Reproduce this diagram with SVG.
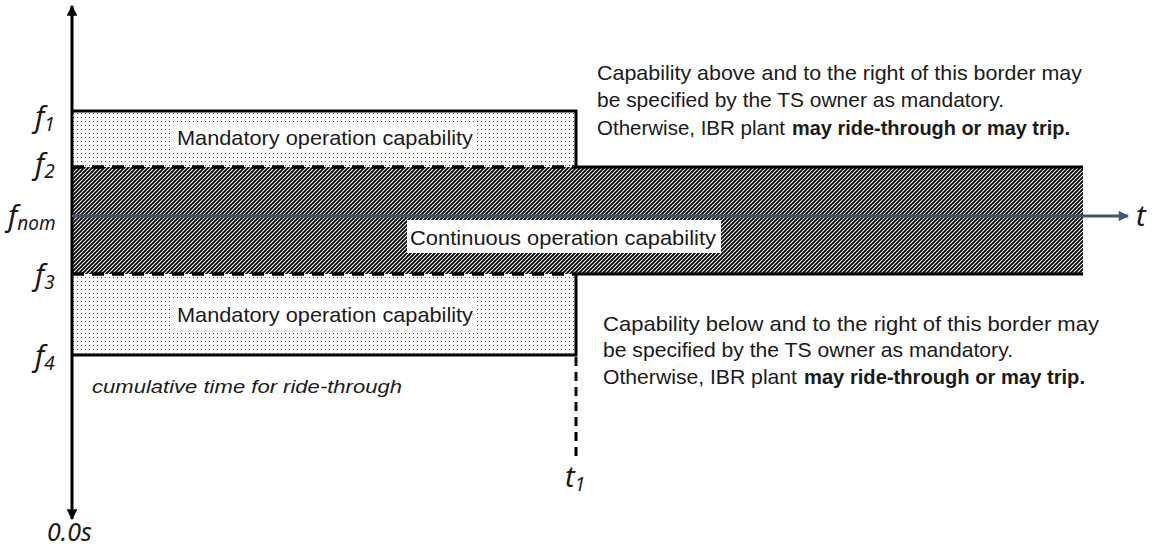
<svg xmlns="http://www.w3.org/2000/svg" width="1153" height="549" viewBox="0 0 1153 549">
<style>
.body{font-family:"Liberation Sans",Arial,sans-serif;font-size:21px;fill:#1a1a1a}
.lab{font-family:"Noto Sans","Open Sans",sans-serif;font-style:italic;font-size:29px;fill:#1a1a1a}
.sub{font-size:19px}
.solid{stroke:#000;stroke-width:3;fill:none}
.dash{stroke:#000;stroke-width:3.5;fill:none;stroke-dasharray:12 8}
.vdash{stroke:#000;stroke-width:3;fill:none;stroke-dasharray:9 6}
.b{font-weight:bold}
</style>
<defs>
<pattern id="dots" width="4" height="4" patternUnits="userSpaceOnUse">
<rect width="4" height="4" fill="#fff"/>
<rect x="1" y="1" width="1" height="1" fill="#555"/>
</pattern>
<pattern id="hatch" width="4" height="4" patternUnits="userSpaceOnUse">
<rect width="4" height="4" fill="#fff"/>
<path d="M-1,1 L1,-1 M0,4 L4,0 M3,5 L5,3" stroke="#000" stroke-width="1.9"/>
</pattern>
<marker id="ahK" viewBox="0 0 10 10" refX="9" refY="5" markerWidth="3.6" markerHeight="3.6" orient="auto" markerUnits="strokeWidth">
<path d="M0,0 L10,5 L0,10 z" fill="#000"/>
</marker>
<marker id="ahB" viewBox="0 0 10 10" refX="9" refY="5" markerWidth="3.8" markerHeight="3.2" orient="auto" markerUnits="strokeWidth">
<path d="M0,0 L10,5 L0,10 z" fill="#44546A"/>
</marker>
</defs>
<rect width="1153" height="549" fill="#fff"/>

<g id="continuous-region">
<rect x="72" y="167" width="1011" height="107" fill="url(#hatch)"/>
<rect x="407" y="220" width="314" height="33" fill="#fff"/>
<text class="body" x="410" y="245" textLength="306" lengthAdjust="spacingAndGlyphs">Continuous operation capability</text>
</g>

<g id="mandatory-upper">
<rect x="72" y="111" width="504" height="56" fill="url(#dots)"/>
<rect x="172" y="124" width="305" height="29" fill="#fff"/>
<text class="body" x="177" y="145" textLength="296" lengthAdjust="spacingAndGlyphs">Mandatory operation capability</text>
</g>

<g id="mandatory-lower">
<rect x="72" y="274" width="504" height="81" fill="url(#dots)"/>
<rect x="172" y="300" width="305" height="30" fill="#fff"/>
<text class="body" x="177" y="322" textLength="296" lengthAdjust="spacingAndGlyphs">Mandatory operation capability</text>
</g>

<g id="connectors">
<line x1="72" y1="262" x2="72" y2="6" class="solid" marker-end="url(#ahK)"/>
<line x1="72" y1="262" x2="72" y2="519" class="solid" marker-end="url(#ahK)"/>
<line x1="72" y1="216" x2="1128" y2="216" stroke="#44546A" stroke-width="3.2" marker-end="url(#ahB)"/>
<path d="M72,111 H576 V167 H1083" class="solid"/>
<line x1="72" y1="167" x2="576" y2="167" class="dash"/>
<line x1="72" y1="274" x2="576" y2="274" class="dash"/>
<path d="M1083,274 H576 V355 H72" class="solid"/>
<line x1="576" y1="357" x2="576" y2="458" class="vdash"/>
</g>

<g id="axis-labels">
<text class="lab" x="35" y="127">f<tspan class="sub" dy="4">1</tspan></text>
<text class="lab" x="35" y="174">f<tspan class="sub" dy="4">2</tspan></text>
<text class="lab" x="8" y="226">f<tspan class="sub" dy="4">nom</tspan></text>
<text class="lab" x="35" y="285">f<tspan class="sub" dy="4">3</tspan></text>
<text class="lab" x="35" y="366">f<tspan class="sub" dy="4">4</tspan></text>
<text class="lab" x="1136" y="226">t</text>
<text class="lab" x="565" y="487">t<tspan class="sub" dy="4">1</tspan></text>
<text class="lab" x="47" y="541" style="font-size:25px">0.0s</text>
<text class="body" x="92" y="393" style="font-style:italic;font-size:18px" textLength="310" lengthAdjust="spacingAndGlyphs">cumulative time for ride-through</text>
</g>

<g id="note-above">
<text class="body" x="597" y="80" textLength="485" lengthAdjust="spacingAndGlyphs">Capability above and to the right of this border may</text>
<text class="body" x="597" y="107" textLength="407" lengthAdjust="spacingAndGlyphs">be specified by the TS owner as mandatory.</text>
<text class="body" x="597" y="135" textLength="188" lengthAdjust="spacingAndGlyphs">Otherwise, IBR plant</text>
<text class="body b" x="792" y="135" textLength="278" lengthAdjust="spacingAndGlyphs">may ride-through or may trip.</text>
</g>

<g id="note-below">
<text class="body" x="603" y="331" textLength="496" lengthAdjust="spacingAndGlyphs">Capability below and to the right of this border may</text>
<text class="body" x="603" y="357" textLength="410" lengthAdjust="spacingAndGlyphs">be specified by the TS owner as mandatory.</text>
<text class="body" x="603" y="384" textLength="194" lengthAdjust="spacingAndGlyphs">Otherwise, IBR plant</text>
<text class="body b" x="804" y="384" textLength="281" lengthAdjust="spacingAndGlyphs">may ride-through or may trip.</text>
</g>
</svg>
